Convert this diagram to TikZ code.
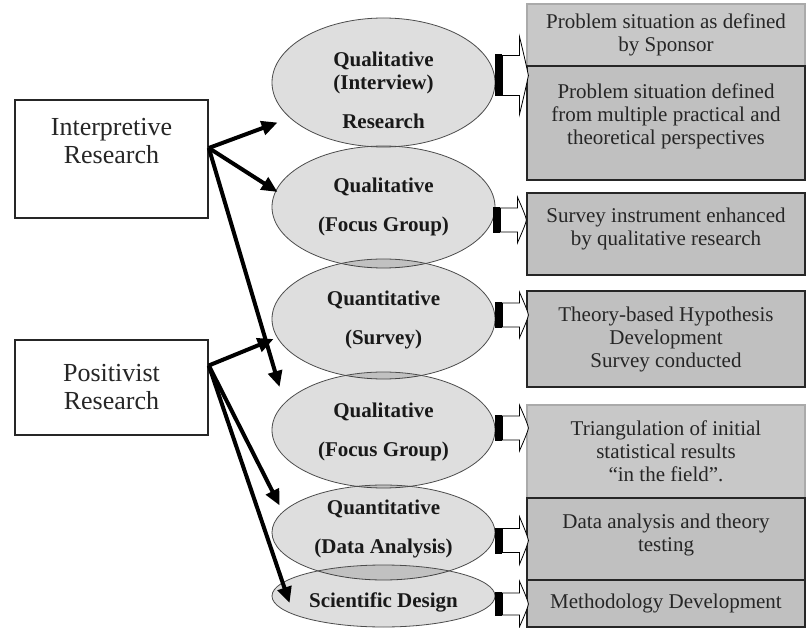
\documentclass[tikz,border=0pt]{standalone}
\usepackage{fontspec}
\setmainfont{Liberation Serif}
\usetikzlibrary{arrows.meta,calc,shapes.geometric}

\definecolor{boxgray}{RGB}{192,192,192}
\definecolor{boxlight}{RGB}{200,200,200}

% invisible strut that deepens the last line of a node text
\newcommand{\lowpad}[1]{\rule[-#1]{0pt}{#1}}

\begin{document}
\begin{tikzpicture}[x=1pt,y=-1pt,
  srcbox/.style={rectangle, draw=black!85, line width=1.6pt, fill=white,
    minimum width=193pt, align=center, inner sep=0pt, text=black!85,
    font=\fontsize{26}{28}\selectfont},
  oval/.style={ellipse, draw=black!70, line width=0.8pt, fill=black,
    fill opacity=0.13, minimum width=223pt, inner sep=0pt},
  ovaltext/.style={align=center, inner sep=0pt, text=black!90,
    font=\bfseries\fontsize{21}{23}\selectfont},
  outbox/.style={rectangle, draw=black!85, line width=1.2pt, fill=boxgray,
    minimum width=278pt, align=center, inner sep=0pt, text=black!85,
    font=\fontsize{21}{23}\selectfont},
  softbox/.style={outbox, fill=boxlight, draw=boxlight!85!black},
  link/.style={line width=4pt, -{Triangle[length=16pt,width=14pt]}},
  pics/hollow/.style 2 args={code={
    \fill[black] (0,-#1-1) rectangle (7,#1+1);
    \draw[fill=white, line width=0.8pt]
      (7,-#1) -- (24,-#1) -- (24,-#2)
      .. controls (28,-0.6*#2) and (32,-5) .. (33,0)
      .. controls (32,5) and (28,0.6*#2) .. (24,#2)
      -- (24,#1) -- (7,#1) -- cycle;
  }}
]
\fill[white] (0,0) rectangle (806,628);
\useasboundingbox (0,0) rectangle (806,628);

% research paradigms
\node[srcbox, minimum height=118pt] (interp) at (111.5,159)
  {Interpretive\\Research\lowpad{36pt}};
\node[srcbox, minimum height=95pt] (posit) at (111.5,387.5)
  {Positivist\\Research};

% research phases
\node[oval, minimum height=129pt] (e1) at (383.5,82.5) {};
\node[oval, minimum height=122pt] (e2) at (383.5,207) {};
\node[oval, minimum height=120pt] (e3) at (383.5,319) {};
\node[oval, minimum height=116pt] (e4) at (383.5,430) {};
\node[oval, minimum height=95pt]  (e5) at (383.5,532.5) {};
\node[oval, minimum height=62pt]  (e6) at (383.5,596) {};

\node[ovaltext] (t1) at ($(e1)+(0,8)$) {Qualitative\\(Interview)\\[16pt]Research};
\node[ovaltext] (t2) at ($(e2)+(0,0)$) {Qualitative\\[16pt](Focus Group)};
\node[ovaltext] (t3) at ($(e3)+(0,1)$) {Quantitative\\[16pt](Survey)};
\node[ovaltext] (t4) at ($(e4)+(0,2)$) {Qualitative\\[16pt](Focus Group)};
\node[ovaltext] (t5) at ($(e5)+(0,-4)$) {Quantitative\\[16pt](Data Analysis)};
\node[ovaltext] (t6) at ($(e6)+(0,6)$) {Scientific Design};

% outcomes
\node[softbox, minimum height=62pt] (b1) at (666,35)
  {Problem situation as defined\\by Sponsor};
\node[outbox, minimum height=114pt] (b2) at (666,123)
  {Problem situation defined\\from multiple practical and\\theoretical perspectives\lowpad{18pt}};
\node[outbox, minimum height=82pt] (b3) at (666,234)
  {Survey instrument enhanced\\by qualitative research\lowpad{14pt}};
\node[outbox, minimum height=96pt] (b4) at (666,339)
  {Theory-based Hypothesis\\Development\\Survey conducted};
\node[softbox, minimum height=93pt] (b5) at (666,451.5)
  {Triangulation of initial\\statistical results\\“in the field”.};
\node[outbox, minimum height=82pt] (b6) at (666,539)
  {Data analysis and theory\\testing\lowpad{12pt}};
\node[outbox, minimum height=47pt] (b7) at (666,603.5)
  {Methodology Development};

% phase -> outcome arrows
\pic at ($(e1.east)+(0,-7)$) {hollow={20}{39}};
\pic at ($(e2.east)+(-2,13)$) {hollow={12}{23}};
\pic at ($(e3.east)+(0,-4)$) {hollow={12}{23}};
\pic at ($(e4.east)+(0,-2)$) {hollow={12}{23}};
\pic at ($(e5.east)+(0,8)$) {hollow={12}{24}};
\pic at ($(e6.east)+(0,8)$) {hollow={11}{23}};

% paradigm -> phase links
\draw[link] ($(interp.east)+(0,-11)$) -- ($(e1.west)+(6,40)$);
\draw[link] ($(interp.east)+(0,-11)$) -- ($(e2.west)+(6,-15)$);
\draw[link] ($(interp.east)+(0,-11)$) -- ($(e4.west)+(8,-43)$);
\draw[link] ($(posit.east)+(0,-22)$) -- ($(e3.west)+(2,20)$);
\draw[link] ($(posit.east)+(0,-22)$) -- ($(e5.west)+(8,-27)$);
\draw[link] ($(posit.east)+(0,-22)$) -- ($(e6.west)+(18,7)$);
\end{tikzpicture}
\end{document}
